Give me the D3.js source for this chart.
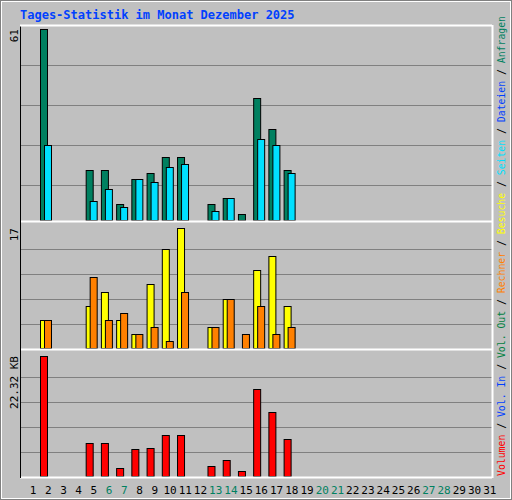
<!DOCTYPE html>
<html><head><meta charset="utf-8">
<script src="https://cdn.jsdelivr.net/npm/d3@7"></script>
<style>body{margin:0;background:#fff}</style>
</head><body>
<script>
var days = d3.range(1, 32);
var weekend = [6, 7, 13, 14, 20, 21, 27, 28];
// per day values (days 1..17, rest zero)
var hits   = [61, 0, 0, 16, 16, 5, 13, 15, 20, 20, 0, 5, 7, 2, 39, 29, 16];
var files  = [24, 0, 0, 6, 10, 4, 13, 12, 17, 18, 0, 3, 7, 0, 26, 24, 15];
var visits = [4, 0, 0, 6, 8, 4, 2, 9, 14, 17, 0, 3, 7, 0, 11, 13, 6];
var hosts  = [4, 0, 0, 10, 4, 5, 2, 3, 1, 8, 0, 3, 7, 2, 6, 2, 3];
var kbytes = [22.32, 0, 0, 6.05, 6.05, 1.56, 4.93, 5.3, 7.55, 7.55, 0, 1.94, 3.06, 1.0, 16.15, 11.85, 6.8];
var legend = [["Volumen", "#ff0000"], ["Vol. In", "#0040ff"], ["Vol. Out", "#008040"],
  ["Rechner", "#ff8000"], ["Besuche", "#ffff00"], ["Seiten", "#00e0ff"],
  ["Dateien", "#0040ff"], ["Anfragen", "#008060"]];

var W = 512, H = 500, left = 20, right = 492;
var svg = d3.select("body").append("svg").attr("width", W).attr("height", H)
  .style("font-family", "'DejaVu Sans Mono', monospace");

svg.append("rect").attr("width", W).attr("height", H).attr("fill", "#c0c0c0");
svg.append("rect").attr("x", 0.5).attr("y", 0.5).attr("width", W - 1).attr("height", H - 1)
  .attr("fill", "none").attr("stroke", "#808080");
svg.append("rect").attr("x", 1.5).attr("y", 1.5).attr("width", W - 3).attr("height", H - 3)
  .attr("fill", "none").attr("stroke", "#fff");

svg.append("text").attr("x", 20).attr("y", 19).attr("fill", "#0040ff")
  .attr("font-weight", "bold").attr("font-size", 12).text("Tages-Statistik im Monat Dezember 2025");

var x = d3.scaleBand().domain(days).range([left + 5, right + 5]).paddingInner(0);

var panels = [
  {top: 25, bottom: 220, max: 61, label: "61", grid: [65, 105, 145, 185],
   series: [[hits, "#008060", 0], [files, "#00e0ff", 4]]},
  {top: 224, bottom: 348, max: 17, label: "17", grid: [249, 274, 299, 324],
   series: [[visits, "#ffff00", 0], [hosts, "#ff8000", 4]]},
  {top: 352, bottom: 476, max: 22.32, label: "22.32 KB", grid: [377, 402, 427, 452], topv: 356,
   series: [[kbytes, "#ff0000", 0]]}
];

panels.forEach(function (p) {
  var y = d3.scaleLinear().domain([0, p.max]).range([p.bottom, p.topv || (p.top + 4)]);
  svg.append("rect").attr("x", left).attr("y", p.top).attr("width", right - left)
    .attr("height", p.bottom - p.top + 2).attr("fill", "#c0c0c0");
  svg.selectAll(null).data(p.grid).enter().append("line")
    .attr("x1", left).attr("x2", right).attr("y1", function (d) { return d + 0.5; })
    .attr("y2", function (d) { return d + 0.5; }).attr("stroke", "#808080");
  p.series.forEach(function (s) {
    var pts = s[0].map(function (v, i) { return {day: days[i], v: v}; })
      .filter(function (d) { return d.v > 0; });
    svg.selectAll(null).data(pts).enter()
      .append("rect")
      .attr("x", function (d) { return x(d.day) + 15.5 + s[2]; })
      .attr("y", function (d) { return Math.round(y(d.v)) + 0.5; })
      .attr("width", 7)
      .attr("height", function (d) { return p.bottom - Math.round(y(d.v)); })
      .attr("fill", s[1]).attr("stroke", "#000");
  });
  svg.append("text").attr("transform", "translate(18," + (p.top + 4) + ") rotate(-90)")
    .attr("text-anchor", "end").attr("font-size", 11).attr("fill", "#000").text(p.label);
  svg.append("line").attr("x1", left).attr("x2", right).attr("y1", p.bottom + 1.5).attr("y2", p.bottom + 1.5)
    .attr("stroke", "#fff").attr("stroke-width", 2);
});
svg.append("line").attr("x1", left + 0.5).attr("x2", left + 0.5).attr("y1", 25).attr("y2", 478).attr("stroke", "#000");
svg.append("line").attr("x1", left).attr("x2", right).attr("y1", 25.5).attr("y2", 25.5).attr("stroke", "#fff").attr("stroke-width", 2);
svg.append("line").attr("x1", right + 0.5).attr("x2", right + 0.5).attr("y1", 25).attr("y2", 478).attr("stroke", "#fff").attr("stroke-width", 2);

svg.selectAll(null).data(days).enter().append("text")
  .attr("x", function (d) { return x(d) + 8; }).attr("y", 494)
  .attr("text-anchor", "middle").attr("font-size", 11)
  .attr("fill", function (d) { return weekend.indexOf(d) >= 0 ? "#008060" : "#000"; })
  .text(function (d) { return d; });

var lg = svg.append("text").attr("transform", "translate(505,476) rotate(-90)")
  .attr("font-size", 10.5).attr("textLength", 460).attr("lengthAdjust", "spacingAndGlyphs");
legend.forEach(function (l, i) {
  if (i > 0) lg.append("tspan").attr("fill", "#000").text(" / ");
  lg.append("tspan").attr("fill", l[1]).text(l[0]);
});
</script>
</body></html>
